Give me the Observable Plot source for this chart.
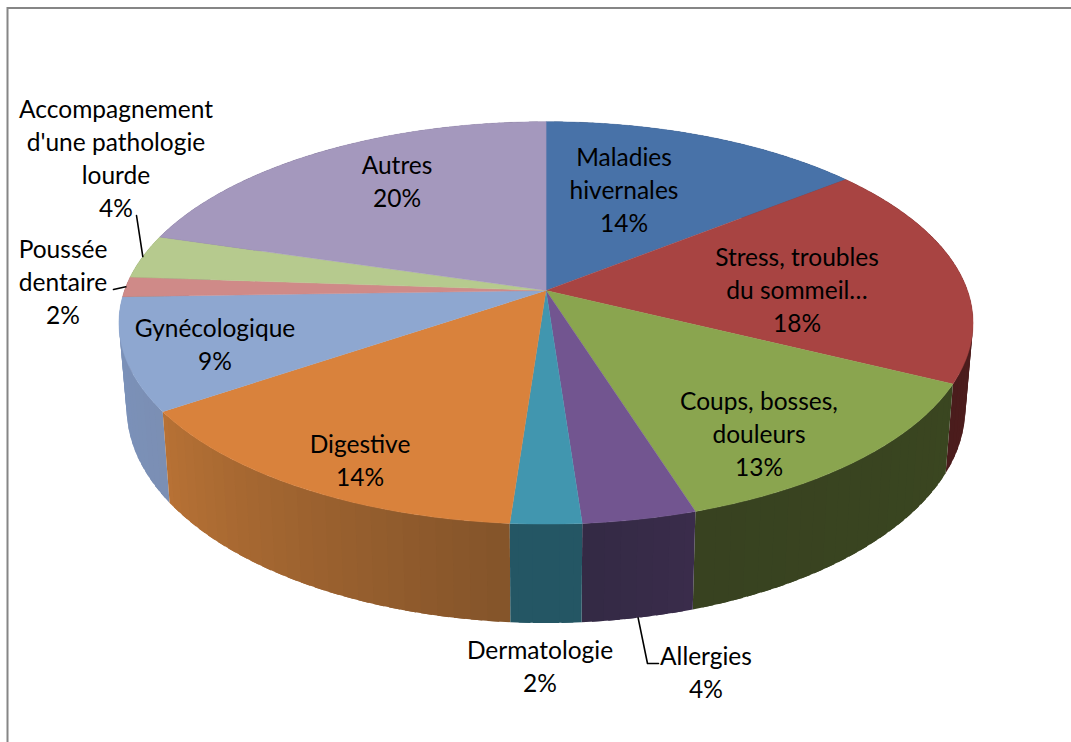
<!DOCTYPE html>
<html><head><meta charset="utf-8">
<script src="https://cdn.jsdelivr.net/npm/d3@7"></script>
<script src="https://cdn.jsdelivr.net/npm/@observablehq/plot@0.6"></script>
<style>html,body{margin:0;padding:0;background:#fff}svg{display:block}</style>
</head><body><div id="chart"></div>
<script>
// Data
const categories = ["Maladies hivernales","Stress, troubles du sommeil…","Coups, bosses, douleurs","Allergies","Dermatologie","Digestive","Gynécologique","Poussée dentaire","Accompagnement d'une pathologie lourde","Autres"];
const shares = [14.3,18,12.85,3.7,2.3,14.35,9,1.6,3.5,20.4];
const percentLabels = ["14%","18%","13%","4%","2%","14%","9%","2%","4%","20%"];
const labelLines = ["Maladies\nhivernales","Stress, troubles\ndu sommeil…","Coups, bosses,\ndouleurs","Allergies","Dermatologie","Digestive","Gynécologique","Poussée\ndentaire","Accompagnement\nd'une pathologie\nlourde","Autres"];
// Styles
const topColors = ["#4872a8","#a84442","#8aa54f","#725590","#4196af","#d9823c","#8ea7d0","#cf8a88","#b6ca8e","#a498bd"];
const sideStart = ["#2c4668","#5a2222","#3a4620","#3a2c4c","#245664","#84542a","#7b8fb4","#8a5a58","#7d8c60","#6e6580"];
const sideEnd = ["#2c4668","#4a1c1c","#384220","#342a44","#245664","#b87235","#7b92bc","#8a5a58","#7d8c60","#6e6580"];
// Layout of the drawing
const W = 1071, H = 742;
const view = {cx:545.5, cy:290, A:421.5, B:196, k:0.161, depth:83, shrink:0.982};
const labelCenters = [[623.5,188],[796.5,288],[758.5,432],[705.5,670],[539.5,664],[359.5,458],[214.5,342],[62.5,280],[115.5,156],[396.5,179]];
const leaderPaths = {3:[[647,663],[658,663]], 7:[[113,289]], 8:[[136,215]]};

// perspective projection of the pie's circular rim; a = angle clockwise from top
function project(a, r, low) {
  const u = Math.sin(a)*r, v = Math.cos(a)*r, w = 1 + view.k*v;
  return low
    ? {x: view.cx + view.A*view.shrink*u/w, y: view.cy + (view.depth - view.B*v)/w}
    : {x: view.cx + view.A*u/w, y: view.cy - view.B*v/w};
}
const total = d3.sum(shares);
let run = 0;
const slices = shares.map((s,i)=>{const a0=run/total*2*Math.PI; run+=s; const a1=run/total*2*Math.PI; return {i,a0,a1,mid:(a0+a1)/2};});

const topPoly = [], sidePoly = [];
let id = 0;
for (const sl of slices) {
  const n = Math.max(2, Math.ceil((sl.a1-sl.a0)/0.02));
  const key = "t"+sl.i;
  topPoly.push({...project(0,0,false), key, fill: topColors[sl.i]});
  for (let j=0;j<=n;j++){
    const a = sl.a0+(sl.a1-sl.a0)*j/n;
    topPoly.push({...project(a,1,false), key, fill: topColors[sl.i]});
  }
  const mix = d3.interpolateRgb(sideStart[sl.i], sideEnd[sl.i]);
  const bands = Math.max(1, Math.ceil((sl.a1-sl.a0)/0.035));
  const overlap = 0.012;
  for (let b=0;b<bands;b++){
    const a0 = Math.max(sl.a0, sl.a0+(sl.a1-sl.a0)*b/bands-overlap), a1 = Math.min(sl.a1, sl.a0+(sl.a1-sl.a0)*(b+1)/bands+overlap);
    const key2 = "s"+(id++), fill = mix((b+0.5)/bands), order = Math.abs(Math.PI-(a0+a1)/2);
    const pts = [[a0,false],[a1,false],[a1,true],[a0,true]];
    pts.forEach(([a,low])=>sidePoly.push({...project(a,1,low), key:key2, fill, order}));
  }
}
sidePoly.sort((p,q)=>q.order-p.order);

const labels = slices.map(sl=>({
  x: labelCenters[sl.i][0], y: labelCenters[sl.i][1],
  text: labelLines[sl.i]+"\n"+percentLabels[sl.i]
}));
const leaders = Object.entries(leaderPaths).flatMap(([i,pts])=>{
  const sl = slices[+i], rim = project(sl.mid,1,+i===3);
  return [{x:rim.x,y:rim.y,key:i}, ...pts.map(([x,y])=>({x,y,key:i}))];
});

const plot = Plot.plot({
  width:W, height:H, margin:0, style:{background:"#fff"},
  x:{domain:[0,W], range:[0,W], axis:null},
  y:{domain:[0,H], range:[0,H], axis:null},
  color:{type:"identity"},
  marks:[
    Plot.ruleY([7.5],{x1:7,x2:W,stroke:"#868686",strokeWidth:2}),
    Plot.ruleX([7],{y1:7,y2:H,stroke:"#868686",strokeWidth:2}),
    Plot.line(sidePoly,{x:"x",y:"y",z:"key",fill:"fill",curve:"linear-closed"}),
    Plot.line(topPoly,{x:"x",y:"y",z:"key",fill:"fill",stroke:"fill",strokeWidth:0.4,curve:"linear-closed"}),
    Plot.line(leaders,{x:"x",y:"y",z:"key",stroke:"#000",strokeWidth:1.6}),
    Plot.text(labels,{x:"x",y:"y",text:"text",fontFamily:"Lato",fontSize:24.5,lineHeight:1.347,fill:"#000",textAnchor:"middle",lineAnchor:"middle"})
  ]
});
document.getElementById("chart").append(plot);
</script></body></html>
